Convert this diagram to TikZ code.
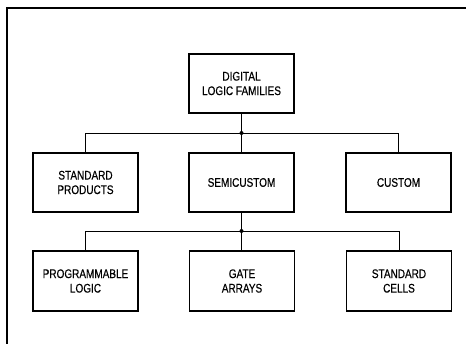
\documentclass[tikz,border=0pt]{standalone}
\usepackage{fontspec}
\setmainfont{Liberation Sans}[FakeStretch=0.8,FakeBold=0.4]
\begin{document}
\begin{tikzpicture}[x=1pt,y=-1pt,
  box/.style={draw, line width=1.5pt, minimum width=105pt, minimum height=59pt, inner sep=0pt, align=center, font=\fontsize{12.5}{14.5}\selectfont},
  link/.style={line width=0.8pt},
  dot/.style={circle, fill, inner sep=0pt, minimum size=4pt}]
\useasboundingbox (0,0) rectangle (466,344);
\draw[line width=1.4pt] (7,344) -- (7,8) -- (466,8);
\node[box] (top) at (241.5,83.5) {DIGITAL\\LOGIC FAMILIES};
\node[box] (sp) at (85.5,182.5) {STANDARD\\PRODUCTS};
\node[box] (semi) at (241.5,182.5) {SEMICUSTOM};
\node[box] (cust) at (398.5,182.5) {CUSTOM};
\node[box, minimum height=60pt] (pl) at (85.5,281) {PROGRAMMABLE\\LOGIC};
\node[box, minimum height=60pt] (ga) at (242,281) {GATE\\ARRAYS};
\node[box, minimum height=60pt] (sc) at (399,281) {STANDARD\\CELLS};
\node[dot] (j1) at (241.5,133) {};
\node[dot] (j2) at (241.5,231) {};
\draw[link] (top.south) -- (j1.center) -- (semi.north);
\draw[link] (j1.center) -| (sp.north);
\draw[link] (j1.center) -| (cust.north);
\draw[link] (semi.south) -- (j2.center) -- (ga.north -| j2.center);
\draw[link] (j2.center) -| (pl.north);
\draw[link] (j2.center) -| (sc.north);
\end{tikzpicture}
\end{document}
